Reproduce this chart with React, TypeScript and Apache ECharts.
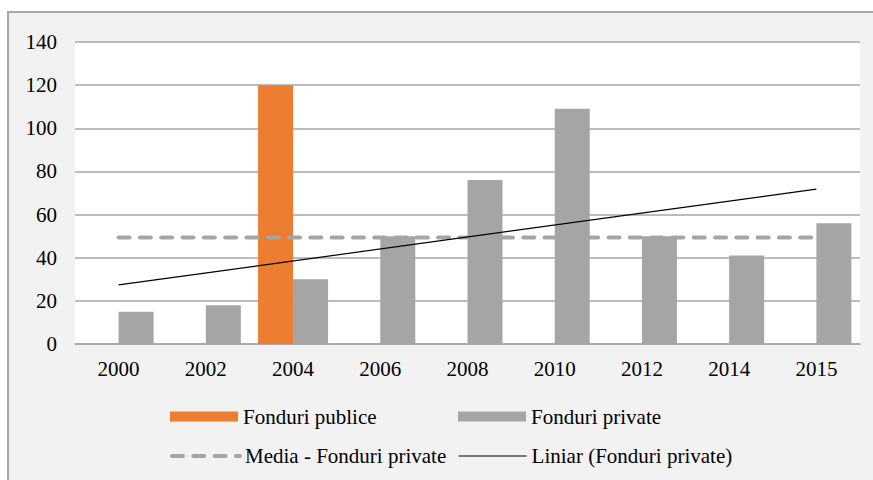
import React, { useEffect, useRef } from "react";
import * as echarts from "echarts";

const categories = ["2000", "2002", "2004", "2006", "2008", "2010", "2012", "2014", "2015"];
const publicFunds: (number | string)[] = ["-", "-", 120, "-", "-", "-", "-", "-", "-"];
const privateFunds = [15, 18, 30, 50, 76, 109, 50, 41, 56];
const meanPrivate: (number | string)[] = [49.4, "-", "-", "-", "-", "-", "-", "-", 49.4];
const trendPrivate: (number | string)[] = [27.4, "-", "-", "-", "-", "-", "-", "-", 71.8];
const yTicks = { min: 0, max: 140, interval: 20 };

const FONT = "'Liberation Serif', 'Times New Roman', serif";
const GRID_COLOR = "#a6a6a6";

export default function App() {
  const ref = useRef<HTMLDivElement>(null);
  useEffect(() => {
    if (!ref.current) return;
    const chart = echarts.init(ref.current, undefined, { renderer: "svg" });
    const legendBase = {
      orient: "horizontal",
      padding: 0,
      itemWidth: 68,
      itemHeight: 10,
      textStyle: { fontFamily: FONT, fontSize: 21, color: "#000", lineHeight: 22 },
      selectedMode: false,
    };
    chart.setOption({
      animation: false,
      backgroundColor: "transparent",
      textStyle: { fontFamily: FONT },
      grid: {
        left: 75,
        right: 13,
        top: 42,
        bottom: 136,
        show: true,
        backgroundColor: "#ffffff",
        borderWidth: 0,
      },
      legend: [
        { ...legendBase, data: [{ name: "Fonduri publice", icon: "rect" }], left: 170, top: 405.5 },
        { ...legendBase, data: [{ name: "Fonduri private", icon: "rect" }], left: 458, top: 405.5 },
        {
          ...legendBase,
          data: ["Media - Fonduri private"],
          left: 170,
          top: 445,
          itemStyle: { opacity: 0 },
          lineStyle: { color: "#A5A5A5", width: 4, type: [11, 10.3], cap: "round" },
        },
        {
          ...legendBase,
          data: ["Liniar (Fonduri private)"],
          left: 458,
          top: 445,
          itemStyle: { opacity: 0 },
          lineStyle: { color: "#000", width: 1.2 },
        },
      ],
      xAxis: {
        type: "category",
        data: categories,
        axisTick: { show: false },
        axisLine: { show: true, lineStyle: { color: GRID_COLOR, width: 1.5 } },
        axisLabel: { color: "#000", fontFamily: FONT, fontSize: 21, margin: 14 },
      },
      yAxis: {
        type: "value",
        min: yTicks.min,
        max: yTicks.max,
        interval: yTicks.interval,
        axisLine: { show: false },
        axisTick: { show: false },
        axisLabel: { color: "#000", fontFamily: FONT, fontSize: 21, margin: 18 },
        splitLine: { lineStyle: { color: GRID_COLOR, width: 1.5 } },
      },
      series: [
        {
          name: "Fonduri publice",
          type: "bar",
          data: publicFunds,
          barWidth: 35,
          barGap: "0%",
          itemStyle: { color: "#ED7D31" },
        },
        {
          name: "Fonduri private",
          type: "bar",
          data: privateFunds,
          barWidth: 35,
          barGap: "0%",
          itemStyle: { color: "#A5A5A5" },
        },
        {
          name: "Media - Fonduri private",
          type: "line",
          data: meanPrivate,
          connectNulls: true,
          symbol: "none",
          showSymbol: false,
          itemStyle: { color: "#A5A5A5" },
          lineStyle: { color: "#A5A5A5", width: 4, type: [11, 10.3], cap: "round" },
          z: 3,
        },
        {
          name: "Liniar (Fonduri private)",
          type: "line",
          data: trendPrivate,
          connectNulls: true,
          symbol: "none",
          showSymbol: false,
          itemStyle: { color: "#000" },
          lineStyle: { color: "#000", width: 1.2 },
          z: 4,
        },
      ],
    });
    return () => chart.dispose();
  }, []);

  return (
    <div
      style={{
        position: "fixed",
        left: 0,
        top: 0,
        width: 873,
        height: 480,
        background: "#ffffff",
        overflow: "hidden",
      }}
    >
      <div
        style={{
          position: "absolute",
          left: 7,
          top: 11,
          width: 900,
          height: 500,
          background: "#f2f2f2",
          border: "2px solid #a6a6a6",
        }}
      />
      <div ref={ref} style={{ position: "absolute", left: 0, top: 0, width: 873, height: 480 }} />
    </div>
  );
}
